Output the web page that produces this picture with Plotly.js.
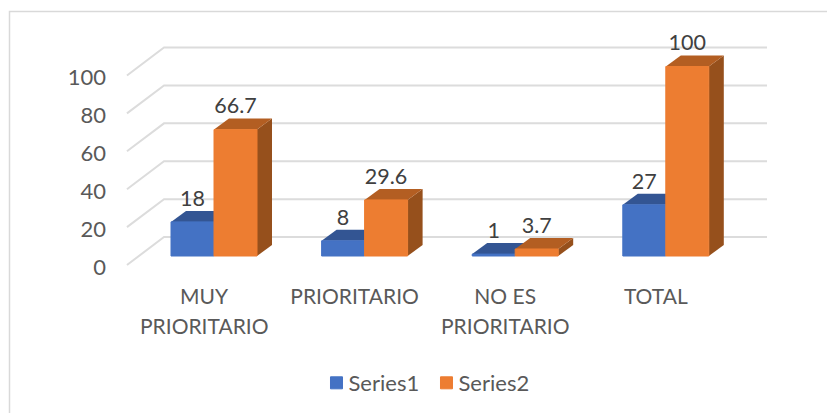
<!DOCTYPE html>
<html>
<head>
<meta charset="utf-8">
<script src="https://cdn.plot.ly/plotly-3.0.1.min.js"></script>
<style>html,body{margin:0;padding:0;background:#fff}#chart{width:827px;height:413px}</style>
</head>
<body>
<div id="chart"></div>
<script>
// Data
var categoryFirstLines = ["MUY", "PRIORITARIO", "NO ES", "TOTAL"];
var categorySecondLines = ["PRIORITARIO", "", "PRIORITARIO", ""];
var series1Name = "Series1";
var series2Name = "Series2";
var series1Values = [18, 8, 1, 27];
var series2Values = [66.7, 29.6, 3.7, 100];
var yTicks = [0, 20, 40, 60, 80, 100];

// Colours
var BLUE = "#4472c4", BLUE_TOP = "#335593";
var ORANGE = "#ed7d31", ORANGE_TOP = "#b35e22", ORANGE_SIDE = "#96501c";
var GRID = "#dcdcdc", BORDER = "#d9d9d9", AXIS_TEXT = "#595959", LABEL_TEXT = "#404040";
var FONT = "Lato, 'Open Sans', sans-serif";

// 3D look, expressed in axis units
var BAR_W = 0.2855;          // one bar in category units
var DEPTH_X = 0.0996, DEPTH_Y = 5.8;      // bar depth
var WALL_FRONT_X = -0.578, WALL_BACK_X = -0.332, WALL_RIGHT_X = 3.672;
var WALL_FRONT_DY = -4.75, WALL_BACK_DY = 10;
var LABEL_DY = 11.4;

var idx = categoryFirstLines.map(function (_, i) { return i; });

function path(pts) {
  return "M" + pts.map(function (p) { return p[0] + "," + p[1]; }).join("L") + "Z";
}
function poly(pts, color) {
  return { type: "path", xref: "x", yref: "y", layer: "below", path: path(pts),
           fillcolor: color, line: { width: 0 } };
}
var shapes = [];
// Chart frame: left and top edges only
shapes.push({ type: "path", xref: "paper", yref: "paper", layer: "below",
  path: "M-0.17,-0.6L-0.17,1.0771L1.09,1.0771", line: { color: BORDER, width: 1.5 } });
// Wall and floor gridlines
yTicks.forEach(function (v) {
  shapes.push({ type: "path", xref: "x", yref: "y", layer: "below",
    path: "M" + WALL_FRONT_X + "," + (v + WALL_FRONT_DY) +
          "L" + WALL_BACK_X + "," + (v + WALL_BACK_DY) +
          "L" + WALL_RIGHT_X + "," + (v + WALL_BACK_DY),
    line: { color: GRID, width: 2 } });
});
// Depth faces of the bars
function addFaces(values, offset, topColor, sideColor) {
  values.forEach(function (v, i) {
    var x0 = i + offset, x1 = x0 + BAR_W;
    shapes.push(poly([[x1, 0], [x1 + DEPTH_X, DEPTH_Y], [x1 + DEPTH_X, v + DEPTH_Y], [x1, v]], sideColor));
    shapes.push(poly([[x0, v], [x1, v], [x1 + DEPTH_X, v + DEPTH_Y], [x0 + DEPTH_X, v + DEPTH_Y]], topColor));
  });
}
addFaces(series1Values, -BAR_W, BLUE_TOP, BLUE_TOP);
addFaces(series2Values, 0, ORANGE_TOP, ORANGE_SIDE);

var traces = [
  { type: "bar", name: series1Name, x: idx, y: series1Values, marker: { color: BLUE, line: { color: BLUE, width: 1 } }, hoverinfo: "y" },
  { type: "bar", name: series2Name, x: idx, y: series2Values, marker: { color: ORANGE, line: { color: ORANGE, width: 1 } }, hoverinfo: "y" },
  { type: "scatter", mode: "text", showlegend: false, hoverinfo: "skip", cliponaxis: false,
    x: idx.map(function (i) { return i - BAR_W / 2; }),
    y: series1Values.map(function (v) { return v + LABEL_DY; }),
    text: series1Values.map(String), textposition: "middle center",
    textfont: { family: FONT, size: 21.5, color: LABEL_TEXT } },
  { type: "scatter", mode: "text", showlegend: false, hoverinfo: "skip", cliponaxis: false,
    x: idx.map(function (i) { return i + BAR_W / 2; }),
    y: series2Values.map(function (v) { return v + LABEL_DY; }),
    text: series2Values.map(String), textposition: "middle center",
    textfont: { family: FONT, size: 21.5, color: LABEL_TEXT } }
];

var annotations = categorySecondLines.map(function (t, i) {
  return { xref: "x", yref: "paper", x: i, y: 0, yanchor: "middle", xanchor: "center", showarrow: false,
           text: t, xshift: -10, yshift: -55, font: { family: FONT, size: 21, color: AXIS_TEXT } };
}).filter(function (a) { return a.text; });

var layout = {
  width: 827, height: 413,
  margin: { l: 120, r: 57, t: 30, b: 143, pad: 0, autoexpand: false },
  paper_bgcolor: "#fff", plot_bgcolor: "rgba(0,0,0,0)",
  font: { family: FONT, size: 21, color: AXIS_TEXT },
  barmode: "group", bargap: 0.429, bargroupgap: 0,
  xaxis: { type: "linear", range: [-0.6242, 3.6919], tickmode: "array", tickvals: idx,
           ticktext: categoryFirstLines, showgrid: false, zeroline: false, showline: false,
           ticks: "", ticklabelshift: -10, ticklabelstandoff: 12,
           tickfont: { family: FONT, size: 21, color: AXIS_TEXT } },
  yaxis: { range: [-7.388, 119.26], tickmode: "array", tickvals: yTicks, showgrid: false,
           zeroline: false, showline: false, ticks: "", ticklabelshift: 11, ticklabelstandoff: 13,
           tickfont: { family: FONT, size: 22, color: AXIS_TEXT } },
  legend: { orientation: "h", xref: "container", yref: "container", x: 0.3827, xanchor: "left",
            y: 0.0726, yanchor: "middle", entrywidth: 65, entrywidthmode: "pixels",
            font: { family: FONT, size: 22, color: AXIS_TEXT }, bgcolor: "rgba(0,0,0,0)" },
  shapes: shapes,
  annotations: annotations
};
Plotly.newPlot("chart", traces, layout, { displayModeBar: false, staticPlot: true }).then(function (gd) {
  // Tighten the gap between each legend swatch and its label
  gd.querySelectorAll(".legend .legendtext").forEach(function (t) {
    t.setAttribute("x", parseFloat(t.getAttribute("x")) - 8);
  });
});
</script>
</body>
</html>
